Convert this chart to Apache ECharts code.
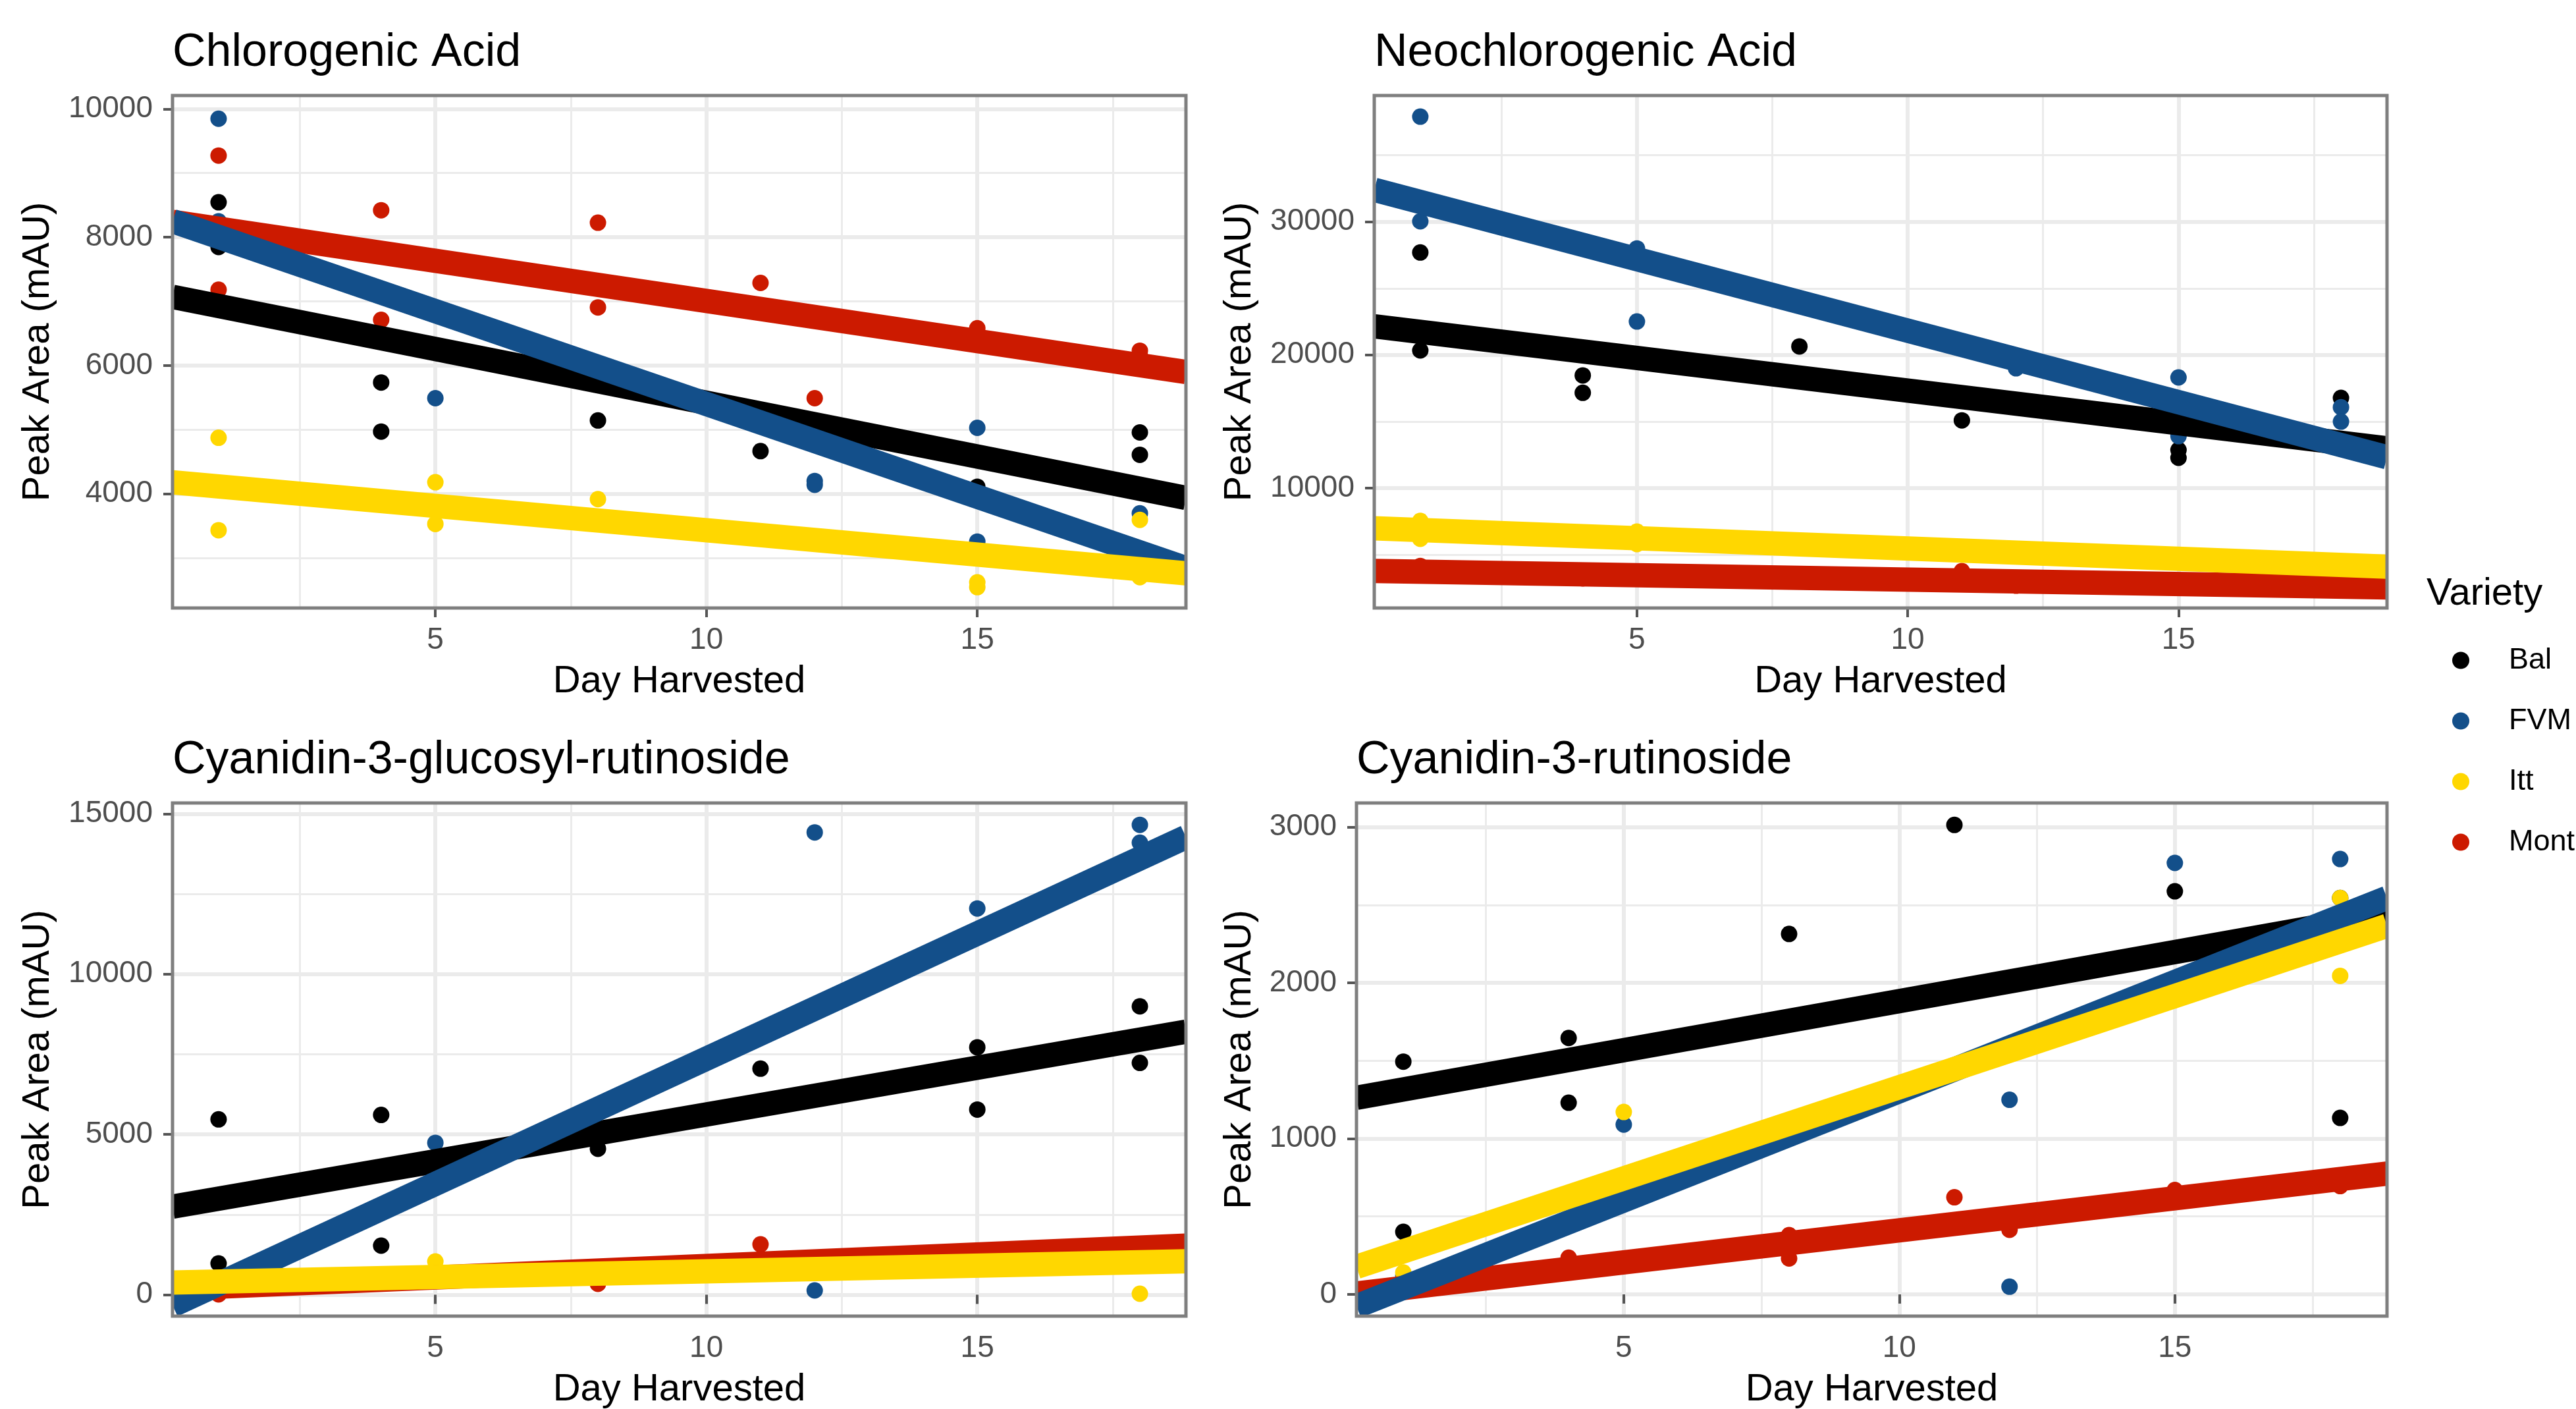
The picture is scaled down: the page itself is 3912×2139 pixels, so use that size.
<!DOCTYPE html>
<html><head><meta charset="utf-8">
<script src="https://cdn.jsdelivr.net/npm/echarts@6/dist/echarts.min.js"></script>
<style>html,body{margin:0;padding:0;background:#fff;}#c{width:3912px;height:2139px;}</style>
</head><body><div id="c"></div>
<script>
// ---------------- DATA ----------------
const varieties = ['Bal', 'FVM', 'Itt', 'Mont'];
const panelTitles = ['Chlorogenic Acid', 'Neochlorogenic Acid', 'Cyanidin-3-glucosyl-rutinoside', 'Cyanidin-3-rutinoside'];
const xTitle = 'Day Harvested';
const yTitle = 'Peak Area (mAU)';
const legendTitle = 'Variety';
const xRange = [0.15, 18.85];
const xMajorTicks = [5, 10, 15];
const xMinorTicks = [2.5, 7.5, 12.5, 17.5];

// Chlorogenic Acid: [day, peak area]
const chloroBal  = [[1,8544],[1,7847],[4,5735],[4,4970],[8,5143],[11,4665],[15,4110],[18,4956],[18,4608]];
const chloroFVM  = [[1,9846],[1,8247],[5,5490],[12,4200],[12,4140],[15,5028],[15,3255],[18,3696]];
const chloroItt  = [[1,4873],[1,3432],[5,4180],[5,3530],[8,3917],[15,2620],[15,2545],[18,3593],[18,2700]];
const chloroMont = [[1,9272],[1,7181],[4,8420],[4,6711],[8,8226],[8,6905],[11,7287],[12,5490],[15,6580],[18,6230],[18,6150]];
const chloroFit  = [[7070,3935],[8250,2840],[4180,2760],[8240,5900]];   // fitted value at x range start / end (Bal, FVM, Itt, Mont)
const chloroYRange = [2220, 10208];
const chloroYMajor = [4000, 6000, 8000, 10000];
const chloroYMinor = [3000, 5000, 7000, 9000];

// Neochlorogenic Acid
const neoBal  = [[1,27694],[1,20336],[4,18461],[4,17155],[8,20636],[11,15082],[15,12863],[15,12270],[18,16770]];
const neoFVM  = [[1,37897],[1,30035],[5,27996],[5,22508],[12,18995],[15,18308],[15,13900],[18,16070],[18,14990]];
const neoItt  = [[1,7530],[1,6190],[5,6730],[5,5790]];
const neoMont = [[1,4150],[4,3220],[11,3760],[12,2670]];
const neoFit  = [[22150,12980],[32400,12320],[6980,4090],[3770,2530]];
const neoYRange = [990, 39486];
const neoYMajor = [10000, 20000, 30000];
const neoYMinor = [5000, 15000, 25000, 35000];

// Cyanidin-3-glucosyl-rutinoside
const c3grBal  = [[1,5468],[1,976],[4,5607],[4,1530],[8,4551],[11,7050],[15,7716],[15,5773],[18,8993],[18,7230]];
const c3grFVM  = [[5,4736],[12,14417],[12,133],[15,12044],[18,14653],[18,14098]];
const c3grItt  = [[4,630],[5,1037],[18,31]];
const c3grMont = [[1,10],[8,340],[11,1570]];
const c3grFit  = [[2745,8200],[-330,14270],[380,1040],[190,1530]];
const c3grYRange = [-668, 15335];
const c3grYMajor = [0, 5000, 10000, 15000];
const c3grYMinor = [2500, 7500, 12500];

// Cyanidin-3-rutinoside
const c3rBal  = [[1,1494],[1,401],[4,1646],[4,1230],[8,2314],[11,3014],[15,2588],[18,2545],[18,1133]];
const c3rFVM  = [[1,120],[5,1090],[12,1249],[12,49],[15,2770],[18,2795]];
const c3rItt  = [[1,140],[5,1171],[15,1890],[18,2545],[18,2045]];
const c3rMont = [[4,235],[8,380],[8,230],[11,623],[12,414],[15,670],[18,695]];
const c3rFit  = [[1262,2440],[-77,2545],[176,2366],[5,775]];
const c3rYRange = [-140, 3155];
const c3rYMajor = [0, 1000, 2000, 3000];
const c3rYMinor = [500, 1500, 2500];

// ---------------- STYLE / LAYOUT ----------------
const FONT = '"Liberation Sans", Arial, Helvetica, sans-serif';
const colors = ['#000000', '#134F8A', '#FFD700', '#CC1A00'];
const lineZ = [4, 5, 6, 3];
const FIT_WIDTH = 37;
const grids = [
  {left: 262,  top: 145,  width: 1539, height: 778},
  {left: 2087, top: 145,  width: 1538, height: 778},
  {left: 262,  top: 1219, width: 1539, height: 779},
  {left: 2060, top: 1219, width: 1565, height: 779}
];
const panels = [
  {pts: [chloroBal, chloroFVM, chloroItt, chloroMont], fit: chloroFit, yr: chloroYRange, ymaj: chloroYMajor, ymin: chloroYMinor},
  {pts: [neoBal, neoFVM, neoItt, neoMont], fit: neoFit, yr: neoYRange, ymaj: neoYMajor, ymin: neoYMinor},
  {pts: [c3grBal, c3grFVM, c3grItt, c3grMont], fit: c3grFit, yr: c3grYRange, ymaj: c3grYMajor, ymin: c3grYMinor},
  {pts: [c3rBal, c3rFVM, c3rItt, c3rMont], fit: c3rFit, yr: c3rYRange, ymaj: c3rYMajor, ymin: c3rYMinor}
];

const GRID_MAJOR = {show: true, lineStyle: {color: '#EBEBEB', width: 6}};
const GRID_MINOR = {show: true, lineStyle: {color: '#EBEBEB', width: 3}};
const TICK = {show: true, length: 14, lineStyle: {color: '#555555', width: 4}};
const LABEL = {color: '#4D4D4D', fontSize: 46, fontFamily: FONT};

function fitRenderer(color) {
  return function (params, api) {
    const p0 = api.coord([api.value(0), api.value(1)]);
    const p1 = api.coord([api.value(2), api.value(3)]);
    return {type: 'line', shape: {x1: p0[0], y1: p0[1], x2: p1[0], y2: p1[1]},
      style: {stroke: color, lineWidth: FIT_WIDTH, lineCap: 'butt', fill: null}};
  };
}

const xAxes = [], yAxes = [], series = [], graphics = [];
panels.forEach((p, i) => {
  xAxes.push({type: 'value', gridIndex: i, min: xRange[0], max: xRange[1],
    axisLine: {show: false}, axisTick: Object.assign({customValues: xMajorTicks}, TICK),
    axisLabel: Object.assign({customValues: xMajorTicks, margin: 26}, LABEL),
    splitLine: GRID_MAJOR});
  xAxes.push({type: 'value', gridIndex: i, min: xRange[0], max: xRange[1],
    axisLine: {show: false}, axisTick: {show: false, customValues: xMinorTicks},
    axisLabel: {show: false, customValues: xMinorTicks}, splitLine: GRID_MINOR});
  yAxes.push({type: 'value', gridIndex: i, min: p.yr[0], max: p.yr[1],
    axisLine: {show: false}, axisTick: Object.assign({customValues: p.ymaj}, TICK),
    axisLabel: Object.assign({customValues: p.ymaj, margin: 30, formatter: v => String(v)}, LABEL),
    splitLine: GRID_MAJOR});
  yAxes.push({type: 'value', gridIndex: i, min: p.yr[0], max: p.yr[1],
    axisLine: {show: false}, axisTick: {show: false, customValues: p.ymin},
    axisLabel: {show: false, customValues: p.ymin}, splitLine: GRID_MINOR});

  p.pts.forEach((d, k) => {
    series.push({type: 'scatter', name: varieties[k], xAxisIndex: 2 * i, yAxisIndex: 2 * i,
      data: d, symbol: 'circle', symbolSize: 25, z: 2, silent: true,
      itemStyle: {color: colors[k], opacity: 1}});
  });
  p.fit.forEach((f, k) => {
    series.push({type: 'custom', name: varieties[k] + ' fit', xAxisIndex: 2 * i, yAxisIndex: 2 * i,
      data: [[xRange[0], f[0], xRange[1], f[1]]], encode: {x: [0, 2], y: [1, 3]},
      renderItem: fitRenderer(colors[k]), clip: true, z: lineZ[k], silent: true});
  });

  const g = grids[i];
  graphics.push({type: 'rect', z: 100, silent: true,
    shape: {x: g.left, y: g.top, width: g.width, height: g.height},
    style: {fill: null, stroke: '#7F7F7F', lineWidth: 5}});
  graphics.push({type: 'text', x: g.left, y: g.top - 64, z: 100,
    style: {text: panelTitles[i], font: '70px ' + FONT, fill: '#000', align: 'left', verticalAlign: 'middle'}});
  graphics.push({type: 'text', x: g.left + g.width / 2, y: g.top + g.height + 112, z: 100,
    style: {text: xTitle, font: '58px ' + FONT, fill: '#000', align: 'center', verticalAlign: 'middle'}});
  graphics.push({type: 'text', x: (i % 2 === 0) ? 58 : 1883, y: g.top + g.height / 2, rotation: Math.PI / 2, z: 100,
    style: {text: yTitle, font: '58px ' + FONT, fill: '#000', align: 'center', verticalAlign: 'middle'}});
});
graphics.push({type: 'text', x: 3685, y: 902, z: 100,
  style: {text: legendTitle, font: '58px ' + FONT, fill: '#000', align: 'left', verticalAlign: 'middle'}});

const chart = echarts.init(document.getElementById('c'), null, {renderer: 'canvas'});
chart.setOption({
  animation: false,
  backgroundColor: '#ffffff',
  grid: grids.map(g => Object.assign({show: false, containLabel: false}, g)),
  xAxis: xAxes,
  yAxis: yAxes,
  legend: {data: varieties.map(v => ({name: v, icon: 'circle'})), orient: 'vertical',
    left: 3719, top: 975, itemWidth: 26, itemHeight: 26, itemGap: 47, selectedMode: false,
    textStyle: {fontSize: 45, fontFamily: FONT, color: '#000', padding: [0, 0, 0, 55]}},
  series: series,
  graphic: graphics
});
</script></body></html>
